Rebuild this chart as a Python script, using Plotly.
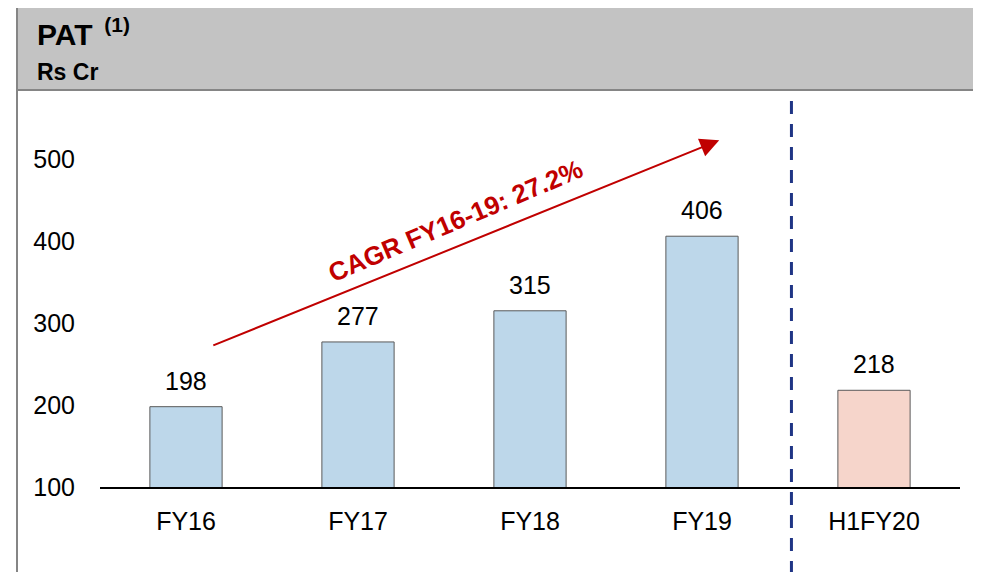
import plotly.graph_objects as go

# values
categories = ["FY16", "FY17", "FY18", "FY19", "H1FY20"]
pat_values = [198, 277, 315, 406, 218]
bar_colors = ["#BDD7EA", "#BDD7EA", "#BDD7EA", "#BDD7EA", "#F6D5CB"]
y_ticks = [100, 200, 300, 400, 500]
cagr_text = "CAGR FY16-19: 27.2%"

# page geometry (the figure is drawn 8px in from the page corner)
W, H = 981, 572
OFF = 8
PL, PR, PT, PB = 100, 960, 110, 487  # plot area on the page
L, R, T, B = PL - OFF, W - (PR - OFF), PT - OFF, H - (PB - OFF)
pw, ph = PR - PL, PB - PT


def px(x):
    return (x - PL) / pw


def py(y):
    return (PB - y) / ph


fig = go.Figure()
fig.add_trace(
    go.Bar(
        x=list(range(len(categories))),
        y=pat_values,
        marker=dict(color=bar_colors, line=dict(color="#5A5A5A", width=1)),
        width=0.42,
        base=0,
        showlegend=False,
        hoverinfo="x+y",
    )
)

# value labels above the bars
for i, v in enumerate(pat_values):
    fig.add_annotation(x=i, y=v, xref="x", yref="y", text=str(v), showarrow=False,
                       xanchor="center", yanchor="bottom", yshift=10,
                       font=dict(size=25, color="black", family="Arial"))

# grey header box and outer frame
fig.add_shape(type="rect", xref="paper", yref="paper",
              x0=px(17), x1=px(977), y0=py(620), y1=py(2),
              line=dict(color="#858585", width=2), fillcolor="rgba(0,0,0,0)", layer="below")
fig.add_shape(type="rect", xref="paper", yref="paper",
              x0=px(17), x1=px(977), y0=py(90), y1=py(2),
              line=dict(color="#858585", width=2), fillcolor="#C3C3C3", layer="below")

# dashed separator before H1FY20
fig.add_shape(type="line", xref="x", yref="paper", x0=3.52, x1=3.52,
              y0=py(620), y1=py(100),
              line=dict(color="#1F3585", width=3, dash="13px,10px"))

# CAGR arrow and label
fig.add_annotation(x=3.10, y=523, ax=0.15, ay=272, xref="x", yref="y",
                   axref="x", ayref="y", text="", showarrow=True,
                   arrowhead=2, arrowsize=1.9, arrowwidth=2, arrowcolor="#C00000")
fig.add_annotation(x=px(455), y=py(221), xref="paper", yref="paper",
                   xanchor="center", yanchor="middle",
                   text="<b>" + cagr_text + "</b>",
                   showarrow=False, textangle=-23,
                   font=dict(size=26, color="#C00000", family="Arial"))

# header texts
fig.add_annotation(x=px(35), y=py(32), xref="paper", yref="paper", xanchor="left",
                   yanchor="middle", showarrow=False,
                   text="<b>PAT</b><b><sup>  (1)</sup></b>",
                   font=dict(size=30, color="black", family="Arial"))
fig.add_annotation(x=px(35), y=py(72), xref="paper", yref="paper", xanchor="left",
                   yanchor="middle", showarrow=False, text="<b>Rs Cr</b>",
                   font=dict(size=23, color="black", family="Arial"))

fig.update_layout(
    width=W, height=H,
    margin=dict(l=L, r=R, t=T, b=B),
    paper_bgcolor="white", plot_bgcolor="white",
    font=dict(family="Arial", size=25, color="black"),
    xaxis=dict(
        tickmode="array", tickvals=list(range(len(categories))), ticktext=categories,
        range=[-0.5, 4.5], showgrid=False, zeroline=False,
        showline=True, linecolor="black", linewidth=1.5,
        ticks="outside", ticklen=11, tickcolor="rgba(0,0,0,0)",
        tickfont=dict(size=25),
    ),
    yaxis=dict(
        range=[100, 560], tickvals=y_ticks, showgrid=False, zeroline=False,
        showline=False, ticks="outside", ticklen=19, tickcolor="rgba(0,0,0,0)",
        tickfont=dict(size=25),
    ),
)

fig.write_html("out.html")
